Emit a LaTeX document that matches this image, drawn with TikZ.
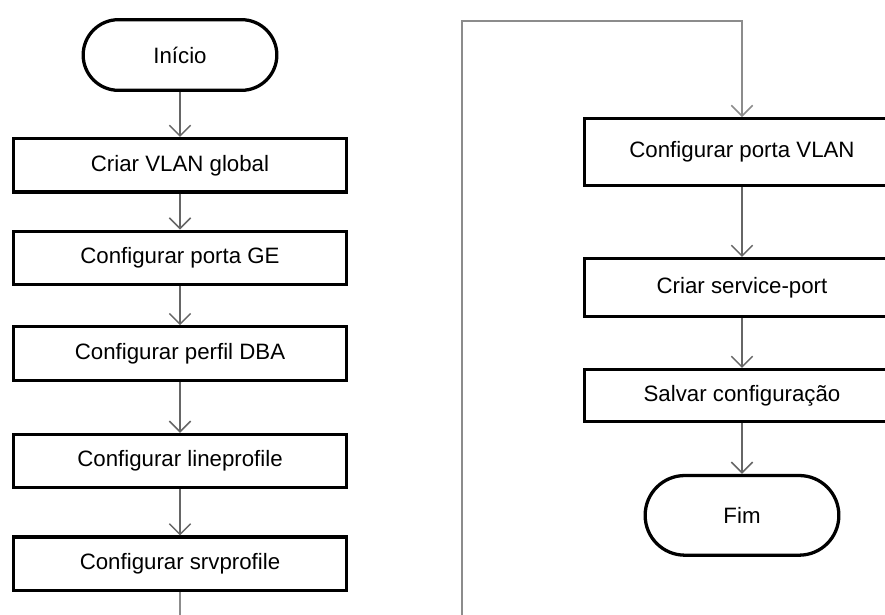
\documentclass[tikz,border=0pt]{standalone}
\usepackage{fontspec}
\setmainfont{Liberation Sans}
\usetikzlibrary{arrows.meta,positioning}
\tikzset{
  stepbox/.style={
    rectangle,
    draw=black,
    line width=2.8pt,
    minimum width=99.8mm,
    minimum height=16mm,
    inner sep=0pt,
    align=center,
    font=\fontsize{19}{22}\selectfont
  },
  startstop/.style={
    stepbox,
    rounded corners=10.6mm,
    minimum width=58.1mm,
    minimum height=21.2mm
  },
  flow/.style={
    -{Straight Barb[length=3.2mm,width=6.4mm]},
    line width=1.3pt,
    draw=black!60
  }
}

\begin{document}
\begin{tikzpicture}[x=0.3mm,y=-0.3mm]
\path[use as bounding box, clip] (0,0) rectangle (885,614);
% left column
\node[startstop] (inicio) at (180,55) {Início};
\node[stepbox, below=13.5mm of inicio] (vlanglobal) {Criar VLAN global};
\node[stepbox, below=10.8mm of vlanglobal] (portage) {Configurar porta GE};
\node[stepbox, below=11.7mm of portage] (perfildba) {Configurar perfil DBA};
\node[stepbox, below=15.3mm of perfildba] (lineprof) {Configurar lineprofile};
\node[stepbox, below=13.8mm of lineprof] (srvprof) {Configurar srvprofile};
% right column
\node[stepbox, minimum width=94.4mm, minimum height=20mm] (portavlan) at (742,152) {Configurar porta VLAN};
\node[stepbox, minimum width=94.4mm, minimum height=17.3mm, below=21mm of portavlan] (serviceport) {Criar service-port};
\node[stepbox, minimum width=94.4mm, minimum height=15.5mm, below=15mm of serviceport] (salvar) {Salvar configuração};
\node[startstop, minimum height=23.9mm, rounded corners=11.9mm, below=15.3mm of salvar] (fim) {Fim};
\foreach \a/\b in {inicio/vlanglobal, vlanglobal/portage, portage/perfildba,
  perfildba/lineprof, lineprof/srvprof, portavlan/serviceport,
  serviceport/salvar, salvar/fim} {
  \draw[flow] (\a) -- (\b);
}
% continues across the page break
\draw[flow, draw=black!45] (srvprof) -- (180,640) -| (462,21) -| (portavlan);
\end{tikzpicture}
\end{document}
